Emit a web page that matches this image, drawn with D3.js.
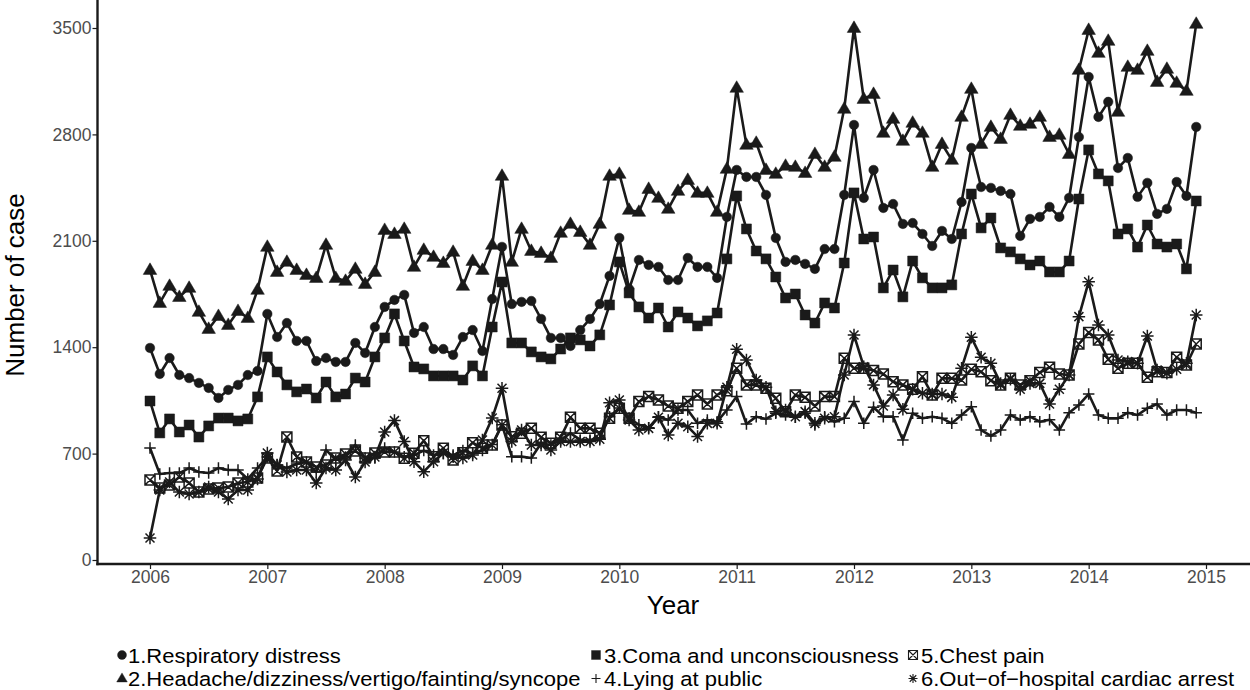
<!DOCTYPE html>
<html>
<head>
<meta charset="utf-8">
<script src="https://cdn.jsdelivr.net/npm/d3@7/dist/d3.min.js"></script>
<style>
html,body{margin:0;padding:0;background:#fff;}
svg{display:block;font-family:"Liberation Sans",Arial,sans-serif;}
</style>
</head>
<body>
<svg id="chart" width="1250" height="690"></svg>
<script>
// ---- Data (monthly, Jan 2006 – Dec 2014) ----
const startYear = 2006;
const xTicks = [2006,2007,2008,2009,2010,2011,2012,2013,2014,2015];
const yTicks = [0,700,1400,2100,2800,3500];

const respiratory = [
1395,1224,1329,1217,1197,1165,1132,1066,1119,1152,1217,1244,
1619,1467,1559,1441,1441,1309,1329,1303,1303,1428,1362,1533,
1665,1711,1744,1494,1533,1388,1388,1349,1467,1513,1375,1717,
2060,1684,1698,1704,1586,1461,1461,1408,1513,1586,1684,1869,
2119,1783,1974,1941,1928,1842,1842,1987,1928,1928,1856,2257,
2566,2520,2520,2402,2119,1961,1974,1948,1915,2046,2046,2402,
2862,2382,2566,2316,2342,2211,2217,2145,2066,2165,2112,2355,
2711,2454,2448,2428,2408,2132,2244,2257,2323,2257,2382,2783,
3178,2915,3014,2579,2645,2389,2481,2277,2310,2487,2395,2849];

const headache = [
1908,1691,1803,1730,1790,1632,1520,1605,1546,1638,1592,1777,
2060,1895,1961,1908,1875,1855,2073,1855,1836,1915,1816,1895,
2171,2145,2178,1928,2040,1994,1954,2027,1803,1967,1908,2073,
2527,1961,2178,2033,2020,1987,2152,2211,2158,2073,2211,2527,
2540,2303,2290,2441,2382,2310,2428,2500,2415,2415,2290,2573,
3106,2731,2744,2566,2540,2593,2586,2546,2671,2586,2652,2968,
3500,3033,3066,2810,2902,2757,2876,2810,2586,2737,2632,2915,
3099,2737,2849,2770,2928,2856,2869,2915,2783,2797,2671,3224,
3487,3336,3415,2948,3244,3224,3349,3145,3231,3139,3086,3527];

const coma = [
1046,836,928,842,888,809,882,934,934,915,928,1073,
1336,1237,1152,1106,1125,1066,1171,1073,1092,1197,1171,1336,
1461,1619,1441,1270,1257,1211,1211,1211,1184,1277,1211,1533,
1829,1428,1428,1369,1336,1323,1388,1461,1448,1408,1481,1678,
1961,1757,1665,1592,1658,1533,1632,1592,1540,1573,1625,1981,
2395,2178,2033,1981,1862,1724,1750,1612,1559,1691,1658,1954,
2415,2112,2125,1790,1908,1731,1967,1856,1790,1790,1810,2145,
2408,2185,2250,2053,2027,1981,1941,1967,1895,1895,1967,2375,
2698,2540,2494,2145,2178,2059,2204,2079,2059,2079,1915,2362];

const lying = [
737,566,572,572,605,579,572,605,592,592,533,605,
678,625,605,632,645,579,724,658,678,757,671,671,
737,711,680,690,720,690,700,690,720,700,720,760,
890,680,680,671,768,757,790,835,790,790,803,943,
1000,934,890,870,943,921,987,987,899,921,910,987,
1075,895,943,928,965,954,939,965,888,943,910,932,
1042,899,1005,943,943,790,965,932,943,932,899,954,
1009,855,816,855,954,921,943,910,923,855,969,1020,
1092,954,932,932,969,954,998,1026,954,987,987,969];

const chest = [
526,474,493,546,507,447,467,474,480,507,513,540,
671,586,809,678,645,612,625,671,697,717,671,704,
711,711,669,702,785,680,735,658,706,772,735,757,
888,811,834,866,807,768,807,939,866,866,834,932,
998,932,1042,1075,1053,1013,998,1042,1086,1026,1086,1114,
1261,1152,1152,1130,1064,976,1086,1070,1013,1075,1075,1327,
1261,1261,1246,1224,1173,1152,1123,1206,1086,1195,1195,1184,
1255,1239,1180,1152,1195,1152,1180,1233,1268,1224,1217,1421,
1496,1448,1320,1261,1294,1294,1202,1239,1233,1334,1283,1421];

const cardiac = [
145,461,513,447,434,447,480,447,401,461,461,533,
704,625,579,592,592,507,605,592,658,546,645,678,
842,917,779,647,581,647,704,680,671,691,790,934,
1130,779,855,757,757,724,779,779,779,779,794,1035,
1053,921,855,866,939,822,900,877,812,899,899,1136,
1386,1316,1184,1136,976,987,943,976,899,932,943,1217,
1480,1272,1152,1013,1086,991,1123,1097,1092,1092,1070,1261,
1465,1334,1294,1162,1189,1123,1162,1162,1026,1123,1217,1601,
1831,1546,1480,1316,1305,1294,1474,1250,1228,1255,1294,1612];

const seriesNames = [
"1.Respiratory distress",
"2.Headache/dizziness/vertigo/fainting/syncope",
"3.Coma and unconsciousness",
"4.Lying at public",
"5.Chest pain",
"6.Out\u2212of\u2212hospital cardiac arrest"];
const seriesValues = [respiratory, headache, coma, lying, chest, cardiac];
const seriesShapes = ["circle","triangle","square","plus","boxx","asterisk"];

// ---- Layout ----
const svg = d3.select("#chart");
const panel = {left: 97.5, right: 1250, top: 0, bottom: 564};
const ink = "#1a1a1a";

const x = d3.scaleLinear().domain([2006, 2015]).range([150, 1206]);
const y = d3.scaleLinear().domain([0, 3500]).range([560, 28]);

// ---- Symbol path generator ----
function symPath(shape, s) {
  const h = s/2;
  switch (shape) {
    case "circle": return d3.symbol(d3.symbolCircle, Math.PI*h*h)();
    case "square": return `M${-h},${-h}H${h}V${h}H${-h}Z`;
    case "triangle": {
      const r = s*0.62;
      return `M0,${-r}L${r*0.95},${r*0.62}L${-r*0.95},${r*0.62}Z`;
    }
    case "plus": return `M${-h},0H${h}M0,${-h}V${h}`;
    case "boxx": return `M${-h},${-h}H${h}V${h}H${-h}ZM${-h},${-h}L${h},${h}M${h},${-h}L${-h},${h}`;
    case "asterisk": {
      const d = h*0.72;
      return `M${-h},0H${h}M0,${-h}V${h}M${-d},${-d}L${d},${d}M${d},${-d}L${-d},${d}`;
    }
  }
}
const filled = {circle:true, triangle:true, square:true, plus:false, boxx:false, asterisk:false};
const markSize = {circle:9.5, triangle:11.5, square:10, plus:11.5, boxx:10, asterisk:12.5};

// ---- Axes ----
const gx = svg.append("g").attr("transform", `translate(0,${panel.bottom})`)
  .call(d3.axisBottom(x).tickValues(xTicks).tickFormat(d3.format("d")).tickSize(5).tickSizeOuter(0));
gx.select(".domain").remove();
gx.selectAll(".tick line").attr("stroke", ink).attr("stroke-width", 1.2);
gx.selectAll(".tick text").attr("fill", "#4d4d4d").attr("font-size", "17.5px")
  .attr("font-family", "Liberation Sans, Arial, sans-serif").attr("dy", "0.71em").attr("y", 7);

const gy = svg.append("g").attr("transform", `translate(${panel.left},0)`)
  .call(d3.axisLeft(y).tickValues(yTicks).tickFormat(d3.format("d")).tickSize(5).tickSizeOuter(0));
gy.select(".domain").remove();
gy.selectAll(".tick line").attr("stroke", ink).attr("stroke-width", 1.2);
gy.selectAll(".tick text").attr("fill", "#4d4d4d").attr("font-size", "17.5px")
  .attr("font-family", "Liberation Sans, Arial, sans-serif").attr("x", -6);

// axis lines
svg.append("line").attr("x1", panel.left).attr("x2", panel.left).attr("y1", 0).attr("y2", panel.bottom+1.2)
  .attr("stroke", ink).attr("stroke-width", 2.4);
svg.append("line").attr("x1", panel.left-1.2).attr("x2", panel.right).attr("y1", panel.bottom).attr("y2", panel.bottom)
  .attr("stroke", ink).attr("stroke-width", 2.4);

// titles
svg.append("text").attr("x", 673).attr("y", 614).attr("text-anchor", "middle")
  .attr("font-size", "26px").attr("fill", "#000").text("Year");
svg.append("text").attr("transform", "translate(24,285) rotate(-90)").attr("text-anchor", "middle")
  .attr("font-size", "26px").attr("fill", "#000").text("Number of case");

// ---- Data marks ----
const plot = svg.append("g");
const line = d3.line().x((d,i) => x(startYear + i/12)).y(d => y(d));

seriesValues.forEach((vals) => {
  plot.append("path").datum(vals).attr("d", line)
    .attr("fill", "none").attr("stroke", ink).attr("stroke-width", 2.6).attr("stroke-linejoin", "round");
});
seriesValues.forEach((vals, si) => {
  const shape = seriesShapes[si];
  const p = symPath(shape, markSize[shape]);
  plot.append("g").selectAll("path").data(vals).join("path")
    .attr("transform", (d,i) => `translate(${x(startYear + i/12)},${y(d)})`)
    .attr("d", p)
    .attr("fill", filled[shape] ? ink : "none")
    .attr("stroke", ink)
    .attr("stroke-width", filled[shape] ? 0.5 : 1.5);
});

// ---- Legend ----
const legendPos = [
  {sx:122, tx:128, y:662.5},
  {sx:122, tx:128, y:686},
  {sx:596, tx:604, y:662.5},
  {sx:596, tx:604, y:686},
  {sx:913, tx:921, y:662.5},
  {sx:913, tx:921, y:686}];
const lg = svg.append("g");
seriesNames.forEach((name, i) => {
  const lp = legendPos[i];
  const shape = seriesShapes[i];
  lg.append("path").attr("transform", `translate(${lp.sx},${lp.y-7.5})`)
    .attr("d", symPath(shape, 9))
    .attr("fill", filled[shape] ? ink : "none").attr("stroke", ink)
    .attr("stroke-width", filled[shape] ? 0.4 : 1.1);
  const t = lg.append("text").attr("x", lp.tx).attr("y", lp.y).attr("font-size", "22px")
    .attr("fill", "#000").text(name);
  const w = t.node().getComputedTextLength();
  t.attr("font-size", "20.5px").attr("textLength", w).attr("lengthAdjust", "spacingAndGlyphs");
});
</script>
</body>
</html>
